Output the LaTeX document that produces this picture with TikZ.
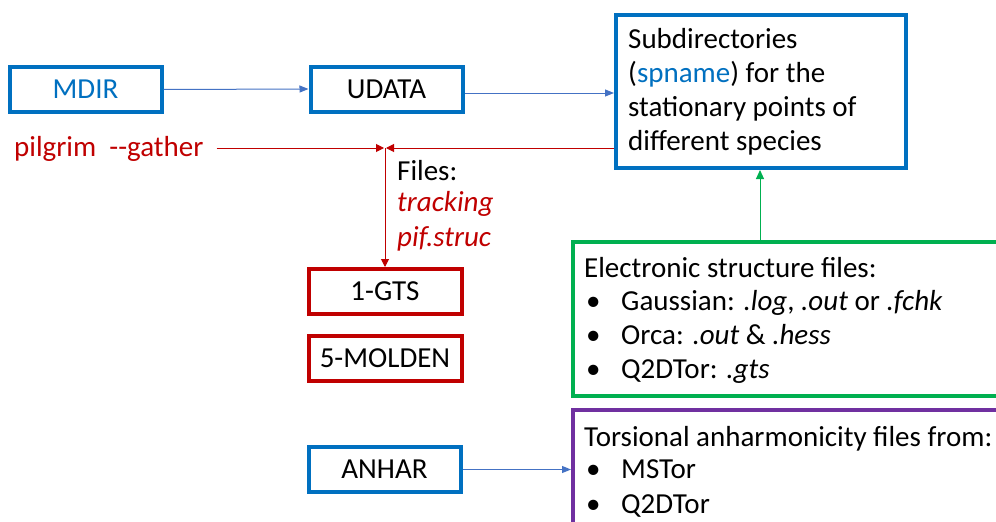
\documentclass[tikz,border=0pt]{standalone}
\usepackage{fontspec}
\setmainfont{Carlito}
\usetikzlibrary{arrows.meta}
\definecolor{boxblue}{HTML}{0070C0}
\definecolor{lineblue}{HTML}{4472C4}
\definecolor{dred}{HTML}{C00000}
\definecolor{dgreen}{HTML}{00B050}
\definecolor{dpurple}{HTML}{7030A0}
\tikzset{
  dirbox/.style={draw=boxblue, line width=4pt, minimum width=152pt, minimum height=45pt, inner sep=0pt},
  outbox/.style={draw=dred, line width=4pt, minimum width=153pt, minimum height=45pt, inner sep=0pt},
  panel/.style={line width=4pt, anchor=north west, inner sep=0pt},
  txt/.style={anchor=base west, inner sep=0pt},
  blueflow/.style={draw=lineblue, line width=1pt, -{Triangle[length=9pt,width=7pt]}},
  redflow/.style={draw=dred, line width=1pt, -{Triangle[length=8pt,width=8pt]}},
  greenflow/.style={draw=dgreen, line width=1pt, -{Triangle[length=9pt,width=8pt]}},
}
\begin{document}
\begin{tikzpicture}[x=1pt, y=-1pt, font=\fontsize{29}{34}\selectfont]
\useasboundingbox[fill=white] (0,0) rectangle (996,522);

% directory boxes
\node[dirbox, text=boxblue] (mdir) at (85.5,89.5) {MDIR};
\node[dirbox] (udata) at (386.5,89) {UDATA};
\node[dirbox] (anhar) at (384.5,469.5) {ANHAR};

% subdirectory panel
\node[panel, draw=boxblue, minimum width=290pt, minimum height=153pt] (sub) at (614,13) {};
\node[txt] (s1) at (628,48) {Subdirectories};
\node[txt] (s2) at (628,82) {(\textcolor{boxblue}{spname}) for the};
\node[txt] (s3) at (628,116) {stationary points of};
\node[txt] (s4) at (628,150) {different species};

% output boxes
\node[outbox] (gts) at (385,291.5) {1-GTS};
\node[outbox] (molden) at (385,358) {5-MOLDEN};

% gather command and gathered files
\node[txt, text=dred] (pil) at (14,156) {pilgrim\ \ -{}-gather};
\coordinate (junc) at (385,148);
\node[txt] (f1) at (397,180) {Files:};
\node[txt, text=dred] (f2) at (397,211) {\itshape tracking};
\node[txt, text=dred] (f3) at (397,246) {\itshape pif.struc};

% electronic structure panel
\node[panel, draw=dgreen, minimum width=440pt, minimum height=154pt] (es) at (571,240) {};
\node[txt] (e0) at (584,277) {Electronic structure files:};
\node[txt] (eb1) at (586,310) {•};
\node[txt] (e1) at (621,310) {Gaussian: \textit{.log}, \textit{.out} or \textit{.fchk}};
\node[txt] (eb2) at (586,344) {•};
\node[txt] (e2) at (621,344) {Orca: \textit{.out} \& \textit{.hess}};
\node[txt] (eb3) at (586,378) {•};
\node[txt] (e3) at (621,378) {Q2DTor: \textit{.gts}};

% torsional anharmonicity panel
\node[panel, draw=dpurple, minimum width=440pt, minimum height=140pt] (tor) at (571,408) {};
\node[txt] (t0) at (584,446) {Torsional anharmonicity files from:};
\node[txt] (tb1) at (586,478) {•};
\node[txt] (t1) at (621,478) {MSTor};
\node[txt] (tb2) at (586,513) {•};
\node[txt] (t2) at (621,513) {Q2DTor};

% connectors
\draw[blueflow] (mdir.east) -- (udata.west);
\draw[blueflow] (udata.east |- 0,93) -- (sub.west |- 0,93);
\draw[blueflow] (anhar.east) -- (tor.west |- anhar.east);
\draw[redflow] (pil.east |- junc) ++(13,0) -- ([xshift=-1pt]junc);
\draw[redflow] (sub.west |- junc) -- ([xshift=1pt]junc);
\draw[redflow] (junc) -- (gts.north);
\draw[greenflow] (es.north -| 760,0) -- (sub.south -| 760,0);
\end{tikzpicture}
\end{document}
